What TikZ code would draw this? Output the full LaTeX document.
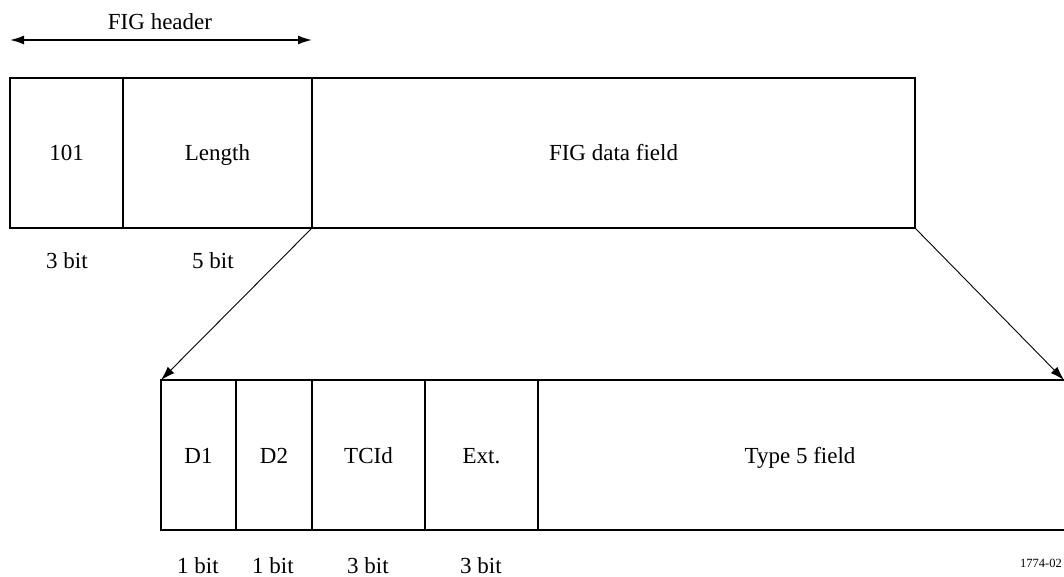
\documentclass[tikz,border=0pt]{standalone}
\usepackage{fontspec}
\setmainfont{Liberation Serif}
\usetikzlibrary{arrows.meta}
\begin{document}
\begin{tikzpicture}[x=1pt,y=-1pt,
  field/.style={draw,line width=1.6pt,inner sep=0pt,outer sep=0pt,text height=16pt,text depth=0pt,font=\fontsize{23}{26}\selectfont},
  lbl/.style={inner sep=0pt,text height=16pt,text depth=0pt,font=\fontsize{23}{26}\selectfont},
  zoomarrow/.style={line width=0.9pt,-{Latex[length=14pt,width=9pt]}},
  hdrarrow/.style={line width=1.6pt,{Latex[length=14pt,width=9pt]}-{Latex[length=14pt,width=9pt]}}]
\useasboundingbox (0,0) rectangle (1064,577);
% top row
\node[field,minimum width=113pt,minimum height=150pt] (f101) at (66.5,153) {101};
\node[field,minimum width=189pt,minimum height=150pt] (flen) at (217.5,153) {Length};
\node[field,minimum width=603pt,minimum height=150pt] (fdata) at (613.5,153) {FIG data field};
% header arrow
\coordinate (hl) at (10,40);
\coordinate (hr) at (312,40);
\draw[hdrarrow] (hl) -- (hr);
\node[lbl] (hdr) at (160,22) {FIG header};
\node[lbl] (b101) at (67,260) {3 bit};
\node[lbl] (blen) at (213,260) {5 bit};
% bottom row
\node[field,minimum width=75pt,minimum height=150pt] (d1) at (198.5,455) {D1};
\node[field,minimum width=76pt,minimum height=150pt] (d2) at (274,455) {D2};
\node[field,minimum width=113pt,minimum height=150pt] (tcid) at (368.5,455) {TCId};
\node[field,minimum width=113pt,minimum height=150pt] (ext) at (481.5,455) {Ext.};
\node[lbl] (t5) at (800,455) {Type 5 field};
\coordinate (t5tr) at (1064,380);
\coordinate (t5br) at (1064,530);
\draw[line width=1.6pt] (ext.north east) -- (t5tr) (ext.south east) -- (t5br);
\node[lbl] (bd1) at (198,565) {1 bit};
\node[lbl] (bd2) at (273,565) {1 bit};
\node[lbl] (btc) at (368,565) {3 bit};
\node[lbl] (bex) at (481,565) {3 bit};
\node[inner sep=0pt,font=\fontsize{12.5}{14}\selectfont,anchor=east] (code) at (1062,563) {1774-02};
% zoom arrows
\draw[zoomarrow] (fdata.south west) -- (d1.north west);
\draw[zoomarrow] (fdata.south east) -- (t5tr);
\end{tikzpicture}
\end{document}
